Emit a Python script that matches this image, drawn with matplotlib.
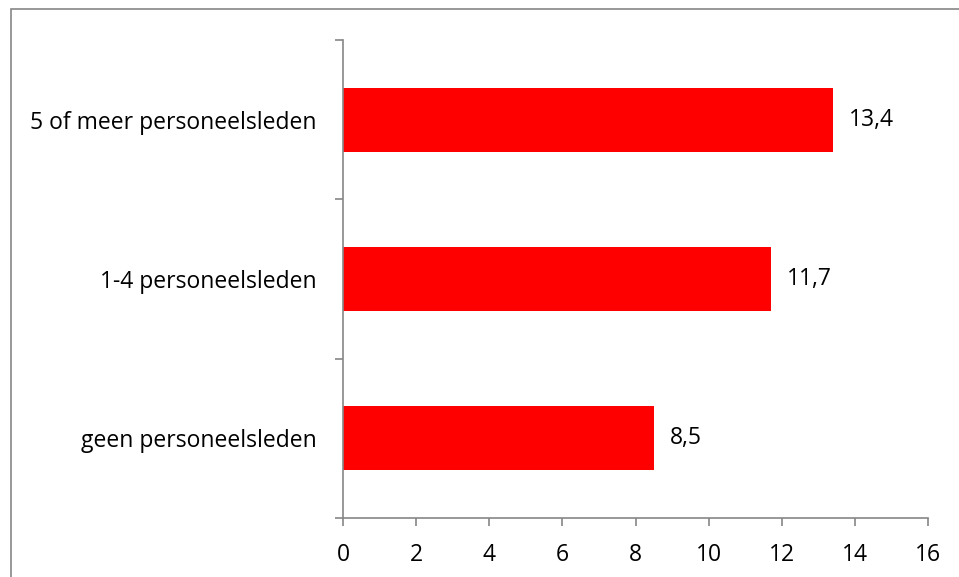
import matplotlib
matplotlib.use("Agg")
import matplotlib.pyplot as plt
from matplotlib.patches import Rectangle

categories = ["geen personeelsleden", "1-4 personeelsleden", "5 of meer personeelsleden"]
values = [8.5, 11.7, 13.4]
xticks = [0, 2, 4, 6, 8, 10, 12, 14, 16]

W, H = 959, 577
fig = plt.figure(figsize=(W / 100, H / 100), dpi=100)
plt.rcParams["font.family"] = ["Open Sans", "DejaVu Sans"]
FS = 16.5

# outer chart frame
fig.patches.append(Rectangle((11 / W, -0.1), 1.2, 1 - 9 / H + 0.1,
                             transform=fig.transFigure, fill=False,
                             edgecolor="#868686", linewidth=1.2))

ax = fig.add_axes([343 / W, (H - 518) / H, (928 - 343) / W, (518 - 40) / H])
ypos = list(range(len(categories)))
ax.barh(ypos, values, height=0.4, color="#ff0000")
ax.set_xlim(0, 16)
ax.set_ylim(-0.5, 2.5)

for y, v in zip(ypos, values):
    ax.text(v + 0.45, y, f"{v:.1f}".replace(".", ","), va="center", ha="left",
            fontsize=FS, color="black")

ax.set_xticks(xticks)
ax.set_xticklabels([str(t) for t in xticks], fontsize=FS)
ax.set_yticks(ypos)
ax.set_yticklabels(categories, fontsize=FS)
ax.set_yticks([-0.5, 0.5, 1.5, 2.5], minor=True)
ax.tick_params(axis="y", which="major", length=0, pad=19)
ax.tick_params(axis="y", which="minor", length=6, color="#868686", width=1.2)
ax.tick_params(axis="x", length=6, color="#868686", width=1.2, pad=12)

for s in ["top", "right"]:
    ax.spines[s].set_visible(False)
for s in ["left", "bottom"]:
    ax.spines[s].set_color("#868686")
    ax.spines[s].set_linewidth(1.2)

fig.savefig("out.png", dpi=100)
